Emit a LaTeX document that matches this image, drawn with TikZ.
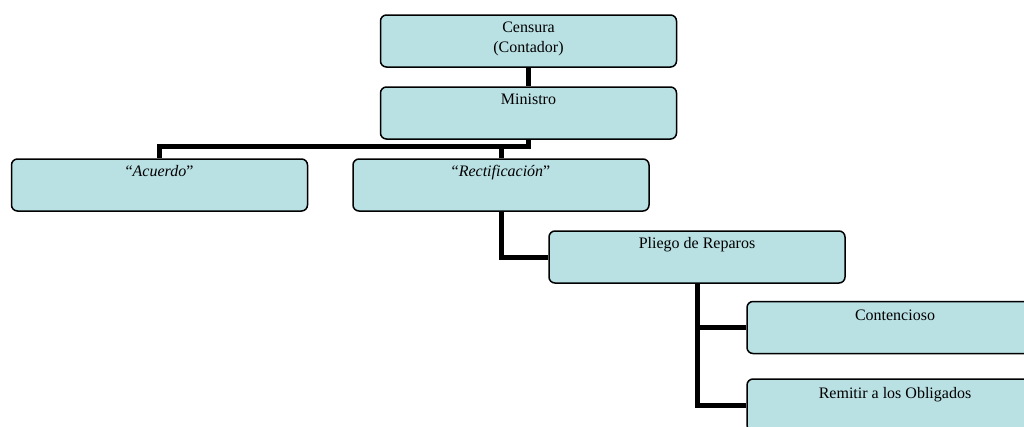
\documentclass[tikz,border=0pt]{standalone}
\usepackage{fontspec}
\setmainfont{Liberation Serif}
\usetikzlibrary{positioning,backgrounds}
\definecolor{paleteal}{HTML}{B9E0E3}
\tikzset{
  orgbox/.style={
    rectangle, rounded corners=6pt, draw=black, line width=1.5pt,
    fill=paleteal, minimum width=296pt, minimum height=52pt,
    inner sep=0pt
  },
  orgtext/.style={
    font=\fontsize{16}{20}\selectfont, align=center,
    inner sep=0pt, text height=11pt
  },
  orgline/.style={line width=5pt, color=black},
}

\begin{document}
\begin{tikzpicture}[x=1pt, y=-1pt]
\useasboundingbox (0,0) rectangle (1024,426);
% Boxes
\node[orgbox] (censura) at (528.5,41) {};
\node[orgtext, text height=31pt, below=7.5pt of censura.north] (censura-txt) {Censura\\(Contador)};
\node[orgbox] (ministro) at (528.5,113) {};
\node[orgtext, below=7.5pt of ministro.north] (ministro-txt) {Ministro};
\node[orgbox] (acuerdo) at (159.5,185) {};
\node[orgtext, below=7.5pt of acuerdo.north] (acuerdo-txt) {“\textit{Acuerdo}”};
\node[orgbox] (rectif) at (501,185) {};
\node[orgtext, below=7.5pt of rectif.north] (rectif-txt) {“\textit{Rectificación}”};
\node[orgbox] (pliego) at (697,257) {};
\node[orgtext, below=7.5pt of pliego.north] (pliego-txt) {Pliego de Reparos};
\node[orgbox] (contencioso) at (895,327.5) {};
\node[orgtext, below=9pt of contencioso.north] (contencioso-txt) {Contencioso};
\node[orgbox] (remitir) at (895,405) {};
\node[orgtext, below=9pt of remitir.north] (remitir-txt) {Remitir a los Obligados};

% Connectors
\begin{scope}[on background layer]
\draw[orgline] (censura.south) -- (ministro.north);
\draw[orgline] (ministro.south) -- ++(0,7) -| (acuerdo.north);
\draw[orgline] (ministro.south) -- ++(0,7) -| (rectif.north);
\draw[orgline] (rectif.south) |- (pliego.west);
\draw[orgline] (pliego.south) |- (contencioso.west);
\draw[orgline] (pliego.south) |- (remitir.west);
\end{scope}
\end{tikzpicture}
\end{document}
